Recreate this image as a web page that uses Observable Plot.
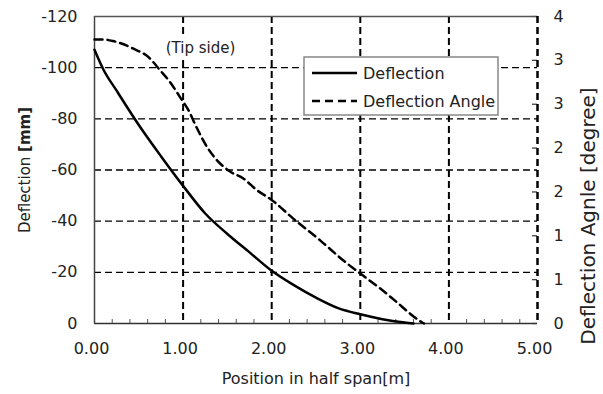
<!DOCTYPE html>
<html><head><meta charset="utf-8">
<script src="https://cdn.jsdelivr.net/npm/d3@7"></script>
<script src="https://cdn.jsdelivr.net/npm/@observablehq/plot@0.6"></script>
<style>
body{margin:0;background:#fff;}
#chart svg{display:block;}
</style></head><body><div id="chart"></div>
<script>
// Deflection (solid, left axis, mm)
const deflPos = [0, 0.1, 0.25, 0.5, 0.75, 1.0, 1.25, 1.5, 1.75, 2.0, 2.25, 2.5, 2.75, 3.0, 3.25, 3.5, 3.6];
const deflMm  = [-107, -99.3, -91, -77.6, -65.4, -53.8, -43, -35, -27.8, -20.6, -15.0, -10.1, -6.0, -3.6, -1.7, -0.4, 0];
// Deflection angle (dashed, right axis, degree)
const anglePos = [0, 0.1, 0.21, 0.44, 0.61, 0.74, 0.85, 0.965, 1.06, 1.15, 1.27, 1.38, 1.53, 1.68, 1.83, 2.0, 2.24, 2.55, 2.81, 3.0, 3.22, 3.41, 3.56, 3.69, 3.72];
const angleDeg = [3.70, 3.70, 3.68, 3.58, 3.47, 3.30, 3.15, 2.95, 2.78, 2.56, 2.30, 2.13, 1.98, 1.89, 1.74, 1.61, 1.37, 1.08, 0.82, 0.65, 0.46, 0.28, 0.13, 0.02, 0];

const xTicks = [0, 1, 2, 3, 4, 5];
const xGrid = [1, 2, 3, 4];
const xMinorTicks = [0.2, 0.4, 0.6, 0.8, 1.2, 1.4, 1.6, 1.8, 2.2, 2.4, 2.6, 2.8, 3.2, 3.4, 3.6, 3.8, 4.2, 4.4, 4.6, 4.8];
const yTicks = [0, -20, -40, -60, -80, -100, -120];
const yGrid = [-20, -40, -60, -80, -100];
const angleTicks = [0, 0.571, 1.143, 1.714, 2.286, 2.857, 3.429, 4];
const angleTickLabels = ["0", "1", "1", "2", "2", "3", "3", "4"];
const seriesNames = ["Deflection", "Deflection Angle"];
const xTitle = "Position in half span[m]";
const yTitle = "Deflection [mm]";
const y2Title = "Deflection Agnle [degree]";
const note = "(Tip side)";

const degToMm = d => -d * 30; // right axis 0..4 deg  <->  left axis 0..-120 mm

const deflData = deflPos.map((x, i) => ({x, v: deflMm[i]}));
const angleData = anglePos.map((x, i) => ({x, deg: angleDeg[i]}));
const rightTicks = angleTicks.map((deg, i) => ({deg, label: angleTickLabels[i]}));

const W = 603, H = 394, mL = 94, mR = 66, mT = 16, mB = 71;
const innerW = W - mL - mR, innerH = H - mT - mB;
const FONT = '"DejaVu Sans", sans-serif';
const dashGrid = "7,4";

const svg = Plot.plot({
  width: W, height: H,
  marginLeft: mL, marginRight: mR, marginTop: mT, marginBottom: mB,
  style: {fontFamily: FONT, fontSize: "16px", color: "#222", background: "#fff"},
  x: {domain: [0, 5]},
  y: {domain: [0, -120]},
  marks: [
    Plot.ruleY(yGrid, {stroke: "#000", strokeWidth: 1.3, strokeDasharray: dashGrid}),
    Plot.ruleX(xGrid, {stroke: "#000", strokeWidth: 2, strokeDasharray: dashGrid}),
    Plot.ruleX(xMinorTicks, {insetTop: innerH - 4, stroke: "#555", strokeWidth: 1}),
    Plot.ruleY(rightTicks, {y: d => degToMm(d.deg), insetLeft: innerW - 5, stroke: "#333", strokeWidth: 1.2}),
    // frame
    Plot.ruleX([0], {stroke: "#444", strokeWidth: 1.5}),
    Plot.ruleY([0], {stroke: "#333", strokeWidth: 1.5}),
    Plot.ruleY([-120], {stroke: "#555", strokeWidth: 1.5}),
    Plot.ruleX([5], {stroke: "#000", strokeWidth: 2.5, strokeDasharray: dashGrid}),
    // axes
    Plot.axisX(xTicks, {tickSize: 0, tickPadding: 19, dx: -3, tickFormat: d => d.toFixed(2), label: null, fontSize: 16}),
    Plot.axisY(yTicks, {anchor: "left", tickSize: 0, tickPadding: 17, tickFormat: d => String(d), label: null, fontSize: 16}),
    Plot.text(rightTicks, {y: d => degToMm(d.deg), text: "label", frameAnchor: "right", dx: 16, textAnchor: "start", fontSize: 16, fill: "#222"}),
    // data
    Plot.line(deflData, {x: "x", y: "v", stroke: "#000", strokeWidth: 2.5, curve: "monotone-x"}),
    Plot.line(angleData, {x: "x", y: d => degToMm(d.deg), stroke: "#000", strokeWidth: 2.5, strokeDasharray: "8,5", curve: "monotone-x"}),
    // texts
    Plot.text([note], {frameAnchor: "top-left", dx: 106, dy: 26, textAnchor: "middle", fontSize: 15, fill: "#222", stroke: "#fff", strokeWidth: 6}),
    Plot.text([yTitle], {frameAnchor: "left", dx: -69, rotate: -90, textAnchor: "middle", fontSize: 15, fill: "#222"}),
    Plot.text([y2Title], {frameAnchor: "right", dx: 51, dy: 46, rotate: -90, textAnchor: "middle", fontSize: 20, fill: "#222"}),
    Plot.text([xTitle], {frameAnchor: "bottom", dy: 60, textAnchor: "middle", fontSize: 16, fill: "#222"})
  ]
});

// bold "[mm]" in the left title
d3.select(svg).selectAll("text").filter(function() { return this.textContent === yTitle; }).each(function() {
  const t = d3.select(this);
  t.text(null);
  t.append("tspan").text("Deflection ");
  t.append("tspan").attr("font-weight", "bold").text("[mm]");
});

// legend
const lg = d3.select(svg).append("g").attr("font-family", FONT).attr("font-size", 16)
  .attr("fill", "#222").attr("text-anchor", "start");
lg.append("rect").attr("x", 304).attr("y", 57).attr("width", 194).attr("height", 58)
  .attr("fill", "#fff").attr("stroke", "#888").attr("stroke-width", 1.5);
seriesNames.forEach((name, i) => {
  const y = 73 + i * 28;
  lg.append("line").attr("x1", 312).attr("x2", 357).attr("y1", y).attr("y2", y)
    .attr("stroke", "#000").attr("stroke-width", 2.5).attr("stroke-dasharray", i ? "8,5" : null);
  lg.append("text").attr("x", 363).attr("y", y).attr("dy", "0.35em").attr("text-anchor", "start").text(name);
});

document.getElementById("chart").appendChild(svg);
</script>
</body></html>
